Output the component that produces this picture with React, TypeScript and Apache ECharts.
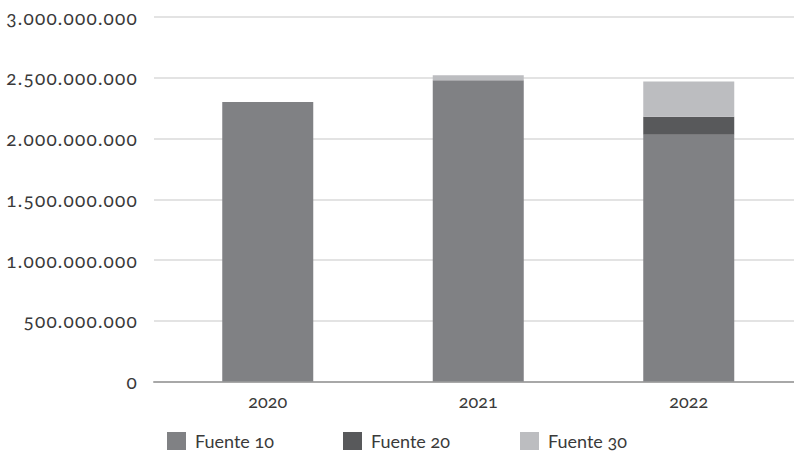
import { useEffect, useRef } from 'react';
import * as echarts from 'echarts';

// Budget by funding source, per year
const years = ['2020', '2021', '2022'];
const seriesNames = ['Fuente 10', 'Fuente 20', 'Fuente 30'];
const fuente10 = [2300000000, 2480000000, 2030000000];
const fuente20 = [0, 0, 150000000];
const fuente30 = [0, 40000000, 290000000];
const yMax = 3000000000;
const yStep = 500000000;

const colors = ['#808184', '#58595b', '#bcbdc0'];
const FONT = 'Lato, "Open Sans", sans-serif';
const TEXT = '#3a3a3a';

const withDots = (v: number) => String(v).replace(/\B(?=(\d{3})+(?!\d))/g, '.');

export default function App() {
  const ref = useRef<HTMLDivElement>(null);

  useEffect(() => {
    if (!ref.current) return;
    const chart = echarts.init(ref.current, undefined, { renderer: 'svg' });

    const legendLefts = [167, 343, 520];
    const dataSets = [fuente10, fuente20, fuente30];

    chart.setOption({
      animation: false,
      textStyle: { fontFamily: FONT },
      grid: [
        { left: 154, right: 0, top: 17, bottom: 70.5 },
        { left: 162.5, right: -3, top: 17, bottom: 70.5 },
      ],
      xAxis: [
        {
          gridIndex: 0,
          type: 'category',
          data: years,
          axisLine: { lineStyle: { color: '#a8a8a8', width: 2 } },
          axisTick: { show: false },
          axisLabel: { show: false },
        },
        {
          gridIndex: 1,
          type: 'category',
          data: years,
          axisLine: { show: false },
          axisTick: { show: false },
          axisLabel: { color: TEXT, fontSize: 18, fontFamily: FONT, margin: 10 },
        },
      ],
      yAxis: [
        {
          gridIndex: 0,
          type: 'value',
          min: 0,
          max: yMax,
          interval: yStep,
          axisLine: { show: false },
          axisTick: { show: false },
          axisLabel: {
            color: TEXT,
            fontSize: 19,
            fontFamily: FONT,
            margin: 16,
            padding: [4, 0, 0, 0],
            formatter: (v: number) => withDots(v),
          },
          splitLine: { lineStyle: { color: '#dadada', width: 1.5 } },
        },
        {
          gridIndex: 1,
          type: 'value',
          min: 0,
          max: yMax,
          interval: yStep,
          show: false,
          splitLine: { show: false },
        },
      ],
      legend: seriesNames.map((name, i) => ({
        data: [name],
        left: legendLefts[i],
        top: 432,
        padding: 0,
        icon: 'rect',
        itemWidth: 19,
        itemHeight: 18,
        selectedMode: false,
        textStyle: {
          color: TEXT,
          fontSize: 18,
          lineHeight: 18,
          fontFamily: FONT,
          padding: [0, 0, 0, 4],
        },
      })),
      series: seriesNames.map((name, i) => ({
        name,
        type: 'bar',
        stack: 'total',
        xAxisIndex: 1,
        yAxisIndex: 1,
        barWidth: 91,
        data: dataSets[i],
        itemStyle: { color: colors[i] },
      })),
    });

    return () => chart.dispose();
  }, []);

  return (
    <>
      <style>{`
        #budget-chart text { font-variant-numeric: oldstyle-nums !important; font-feature-settings: "onum" 1 !important; }
        #budget-chart text[text-anchor="end"] { letter-spacing: 1.2px; }
      `}</style>
      <div
        id="budget-chart"
        ref={ref}
        style={{ position: 'absolute', left: 0, top: 0, width: 794, height: 452, background: '#fff' }}
      />
    </>
  );
}
